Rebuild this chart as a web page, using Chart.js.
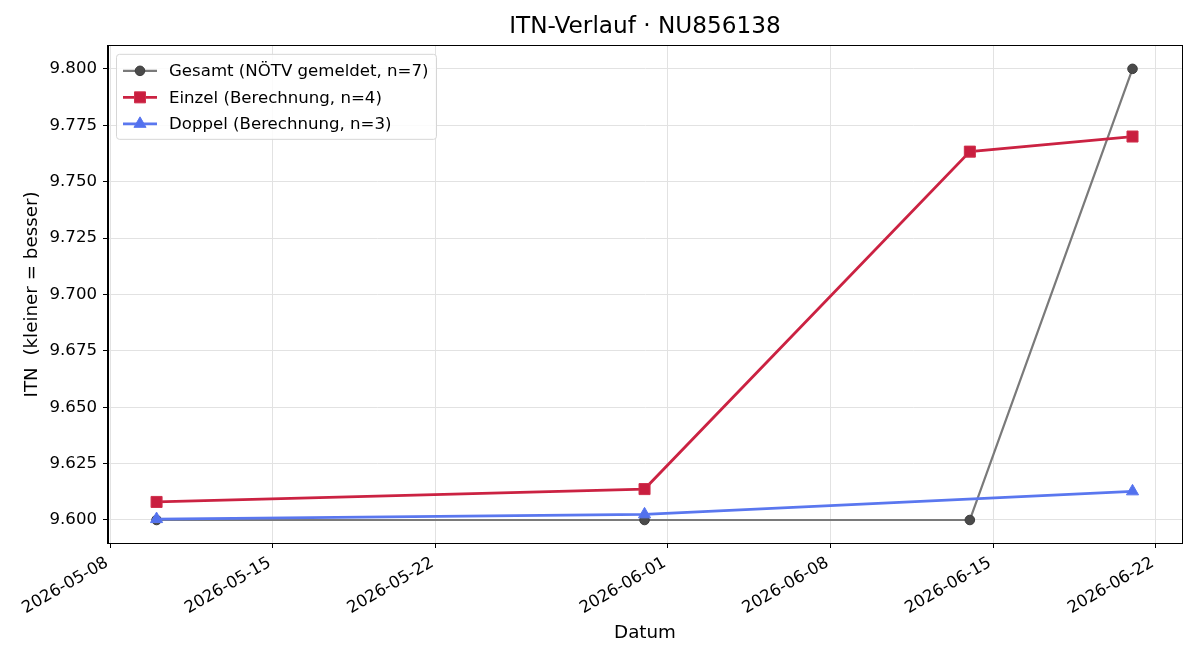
<!DOCTYPE html>
<html lang="de">
<head>
<meta charset="utf-8">
<title>ITN-Verlauf</title>
<script src="https://cdn.jsdelivr.net/npm/chart.js@4.4.1/dist/chart.umd.min.js"></script>
<style>
  html, body { margin: 0; padding: 0; background: #fff; }
  #wrap { width: 1200px; height: 660px; }
</style>
</head>
<body>
<div id="wrap"><canvas id="itn" width="1200" height="660"></canvas></div>
<script>
// ── Daten ──
const START_DATE = '2026-05-08';
const X_TICK_DATES = ['2026-05-08', '2026-05-15', '2026-05-22', '2026-06-01', '2026-06-08', '2026-06-15', '2026-06-22'];
const Y_TICKS = [9.600, 9.625, 9.650, 9.675, 9.700, 9.725, 9.750, 9.775, 9.800];

const gesamtDates  = ['2026-05-10', '2026-05-31', '2026-06-14', '2026-06-21'];
const gesamtValues = [9.600, 9.600, 9.600, 9.800];

const einzelDates  = ['2026-05-10', '2026-05-31', '2026-06-14', '2026-06-21'];
const einzelValues = [9.608, 9.6137, 9.7633, 9.770];

const doppelDates  = ['2026-05-10', '2026-05-31', '2026-06-21'];
const doppelValues = [9.6004, 9.6025, 9.6127];

const LABELS = [
  'Gesamt (NÖTV gemeldet, n=7)',
  'Einzel (Berechnung, n=4)',
  'Doppel (Berechnung, n=3)',
];

// Tage seit START_DATE
const DAY = 86400000;
const _t0 = Date.parse(START_DATE + 'T00:00:00Z');
const dayOf = s => (Date.parse(s + 'T00:00:00Z') - _t0) / DAY;
const fmtDay = d => new Date(_t0 + d * DAY).toISOString().slice(0, 10);
const pts = (dates, vals) => dates.map((d, i) => ({ x: dayOf(d), y: vals[i] }));

const FONT = "'DejaVu Sans', 'Liberation Sans', sans-serif";

/* ── Rahmen (alle vier Achsenlinien) ── */
const spinePlugin = {
  id: 'spines',
  afterDatasetsDraw(chart) {
    const { ctx, chartArea: a } = chart;
    ctx.save();
    ctx.strokeStyle = '#000';
    ctx.lineWidth = 1;
    ctx.strokeRect(Math.round(a.left) - 0.5, Math.round(a.top) - 0.5,
                   Math.round(a.right - a.left) + 1, Math.round(a.bottom - a.top) + 1);
    ctx.restore();
  },
};

/* ── Legende innerhalb der Zeichenfläche (oben links) ── */
const innerLegend = {
  id: 'innerLegend',
  afterDraw(chart) {
    const { ctx, chartArea: a } = chart;
    const x0 = a.left + 8, y0 = a.top + 8, w = 320, h = 85;
    ctx.save();
    ctx.beginPath();
    ctx.roundRect(x0 + 0.5, y0 + 0.5, w, h, 3);
    ctx.fillStyle = 'rgba(255,255,255,0.85)';
    ctx.fill();
    ctx.strokeStyle = '#d6d6d6';
    ctx.lineWidth = 1;
    ctx.stroke();

    chart.data.datasets.forEach((ds, i) => {
      const cy = y0 + 17 + i * 26.5;
      ctx.beginPath();
      ctx.moveTo(x0 + 7, cy);
      ctx.lineTo(x0 + 41, cy);
      ctx.strokeStyle = ds.borderColor;
      ctx.lineWidth = ds.borderWidth;
      ctx.stroke();
      ctx.fillStyle = ds.pointBackgroundColor;
      ctx.strokeStyle = ds.pointBorderColor;
      ctx.lineWidth = 1;
      Chart.helpers.drawPoint(ctx, {
        pointStyle: ds.pointStyle, radius: ds.pointRadius, borderWidth: 1, rotation: 0,
      }, x0 + 24, cy);
      ctx.fillStyle = '#000';
      ctx.font = `16.6px ${FONT}`;
      ctx.textBaseline = 'middle';
      ctx.textAlign = 'left';
      ctx.fillText(ds.label, x0 + 53, cy + 1);
    });
    ctx.restore();
  },
};

const _GRID = { color: '#e2e2e2', lineWidth: 1, tickColor: '#000', tickLength: 5, tickWidth: 1 };

new Chart(document.getElementById('itn').getContext('2d'), {
  type: 'line',
  data: {
    datasets: [
      {
        label: LABELS[0], data: pts(gesamtDates, gesamtValues), order: 3,
        borderColor: '#7a7a7a', borderWidth: 2.2,
        pointStyle: 'circle', pointRadius: 4.8,
        pointBackgroundColor: '#4a4a4a', pointBorderColor: '#3c3c3c', pointBorderWidth: 1,
      },
      {
        label: LABELS[1], data: pts(einzelDates, einzelValues), order: 2,
        borderColor: '#cb2242', borderWidth: 2.8,
        pointStyle: 'rect', pointRadius: 7.8,
        pointBackgroundColor: '#c91e3f', pointBorderColor: '#d0304c', pointBorderWidth: 1,
      },
      {
        label: LABELS[2], data: pts(doppelDates, doppelValues), order: 1,
        borderColor: '#5a77ef', borderWidth: 2.8,
        pointStyle: 'triangle', pointRadius: 7,
        pointBackgroundColor: '#5271ee', pointBorderColor: '#5a77ef', pointBorderWidth: 1,
      },
    ],
  },
  options: {
    responsive: false,
    animation: false,
    layout: { padding: { left: 0, right: 18, top: 0, bottom: 0 } },
    elements: { line: { tension: 0 } },
    plugins: {
      legend: { display: false },
      tooltip: { enabled: false },
      title: {
        display: true,
        fullSize: false,
        text: 'ITN-Verlauf · NU856138',
        color: '#000',
        font: { family: FONT, size: 23.2, weight: 'normal', lineHeight: 1.2 },
        padding: { top: 13.5, bottom: 4.5 },
      },
    },
    scales: {
      x: {
        type: 'linear',
        min: -0.09,
        max: 46.13,
        grid: _GRID,
        border: { display: true, color: '#000', width: 1 },
        afterBuildTicks: s => { s.ticks = X_TICK_DATES.map(d => ({ value: dayOf(d) })); },
        afterFit: s => { s.height = 117; },
        ticks: {
          autoSkip: false, minRotation: 30, maxRotation: 30, padding: 5, labelOffset: -3,
          color: '#000', font: { family: FONT, size: 16.6 },
          callback: v => fmtDay(v),
        },
        title: {
          display: true, text: 'Datum', color: '#000',
          font: { family: FONT, size: 18.3, lineHeight: 1.2 },
          padding: { top: 0, bottom: 16 },
        },
      },
      y: {
        type: 'linear',
        min: 9.5898,
        max: 9.8102,
        grid: _GRID,
        border: { display: true, color: '#000', width: 1 },
        afterBuildTicks: s => { s.ticks = Y_TICKS.map(v => ({ value: v })); },
        afterFit: s => { s.width = 108; },
        ticks: {
          padding: 6, color: '#000', font: { family: FONT, size: 16.6 },
          callback: v => v.toFixed(3),
        },
        title: {
          display: true, text: 'ITN  (kleiner = besser)', color: '#000',
          font: { family: FONT, size: 18.3, lineHeight: 1.2 },
          padding: { top: 21, bottom: 0 },
        },
      },
    },
  },
  plugins: [spinePlugin, innerLegend],
});
</script>
</body>
</html>
